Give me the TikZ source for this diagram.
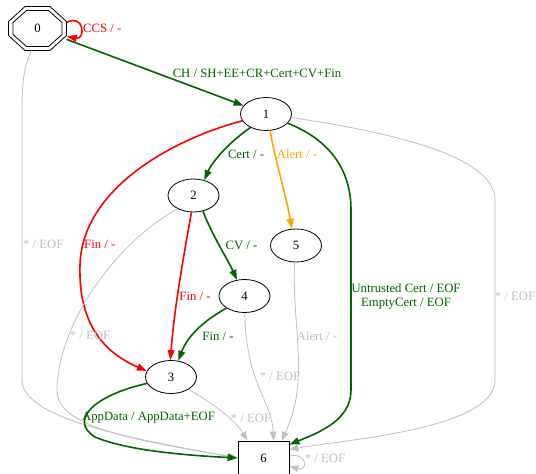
\documentclass[tikz,border=0pt]{standalone}
\usepackage{fontspec}
\setmainfont{Liberation Serif}
\usetikzlibrary{arrows.meta,shapes.geometric}
\definecolor{gvgreen}{HTML}{006400}
\definecolor{gvgray}{HTML}{C0C0C0}
\definecolor{gvorange}{HTML}{FFA500}
\definecolor{gvred}{HTML}{FF0000}
\begin{document}
\begin{tikzpicture}[x=1pt,y=-1pt,
  font=\fontsize{12.7}{14}\selectfont,
  state/.style={draw, ellipse, minimum width=51pt, minimum height=33pt, inner sep=0pt, line width=0.8pt},
  lbl/.style={inner sep=0pt, anchor=center},
  strong/.style={line width=1.6pt, -{Triangle[length=10pt,width=7pt]}},
  weak/.style={line width=0.8pt, draw=gvgray, -{Triangle[length=9pt,width=6.5pt]}},
  glab/.style={lbl, text=gvgreen},
  rlab/.style={lbl, text=gvred},
  olab/.style={lbl, text=gvorange},
  wlab/.style={lbl, text=gvgray}]
\useasboundingbox (0,0) rectangle (536,474);
\fill[white] (0,0) rectangle (536,474);
% nodes
\node[minimum width=58pt, minimum height=44pt, inner sep=0pt] (n0) at (37.5,28.5) {0};
\draw[line width=0.8pt, shift={(n0.center)}] (-12.5,-22) -- (12.5,-22) -- (29,-7) -- (29,7) -- (12.5,22) -- (-12.5,22) -- (-29,7) -- (-29,-7) -- cycle;
\draw[line width=0.8pt, shift={(n0.center)}] (-11,-18) -- (11,-18) -- (24.5,-6) -- (24.5,6) -- (11,18) -- (-11,18) -- (-24.5,6) -- (-24.5,-6) -- cycle;
\node[state] (n1) at (266,114) {1};
\node[state] (n2) at (193.5,195.5) {2};
\node[state] (n4) at (244.5,296) {4};
\node[state] (n5) at (296,245.5) {5};
\node[state] (n3) at (171,377) {3};
\node[draw, rectangle, minimum width=51pt, minimum height=34pt, inner sep=0pt, line width=0.8pt] (n6) at (263.5,458) {6};
% edges
\draw[strong, draw=gvred] ([yshift=6pt]n0.east) .. controls (84,13) and (86,40) .. ([yshift=-8pt]n0.east);
\node[rlab, anchor=west] (l0) at (83,28) {CCS / -};
\draw[strong, draw=gvgreen] (n0) -- (n1);
\node[glab] (l01) at (257,73) {CH / SH+EE+CR+Cert+CV+Fin};
\draw[weak] ([xshift=-6pt]n0.south) .. controls (22,70) and (22,90) .. (22,120) -- (22,380) .. controls (22,420) and (140,440) .. (n6.west);
\node[wlab, anchor=west] (l06) at (23,244) {* / EOF};
\draw[strong, draw=gvred] (n1.196) .. controls (170,140) and (82,190) .. (80,265) .. controls (78,330) and (110,355) .. (n3.166);
\node[rlab, anchor=west] (l13) at (84,244) {Fin / -};
\draw[strong, draw=gvgreen] (n1.221) .. controls (232,140) and (213,160) .. (n2.55);
\node[glab] (l12) at (246,154) {Cert / -};
\draw[strong, draw=gvorange] (n1.-76) .. controls (275,160) and (285,190) .. (n5.104);
\node[olab] (l15) at (297,154) {Alert / -};
\draw[strong, draw=gvgreen] (n1.-23) .. controls (330,140) and (351,170) .. (351,210) -- (351,390) .. controls (351,420) and (320,432) .. ([yshift=-4pt]n6.north east);
\node[glab, align=center] (l16) at (406,296) {Untrusted Cert / EOF\\EmptyCert / EOF};
\draw[weak] (n1.-8) .. controls (410,135) and (495,160) .. (495,200) -- (495,380) .. controls (495,430) and (340,440) .. ([yshift=-9pt]n6.north east);
\node[wlab] (l16b) at (515,296) {* / EOF};
\draw[strong, draw=gvred] (n2.-97) .. controls (183,260) and (174,310) .. (n3.92);
\node[rlab] (l23) at (195,296) {Fin / -};
\draw[strong, draw=gvgreen] (n2.-59) .. controls (212,235) and (228,260) .. (n4.115);
\node[glab] (l24) at (241.5,245) {CV / -};
\draw[weak] (n2.220) .. controls (120,240) and (58,320) .. (57,390) .. controls (56,430) and (150,442) .. (n6.west);
\node[wlab] (l26) at (90,335) {* / EOF};
\draw[strong, draw=gvgreen] (n4.214) .. controls (205,320) and (188,335) .. (n3.66);
\node[glab] (l43) at (218,336) {Fin / -};
\draw[weak] (n4.-89) .. controls (246,385) and (272,400) .. ([xshift=10pt]n6.north);
\node[wlab] (l46) at (280,376) {* / EOF};
\draw[weak] (n5.-95) .. controls (292,330) and (310,380) .. ([xshift=18pt]n6.north);
\node[wlab] (l56) at (317,336) {Alert / -};
\draw[weak] (n3.-35) .. controls (215,405) and (235,420) .. ([xshift=-16pt]n6.north);
\node[wlab] (l36) at (251,418) {* / EOF};
\draw[strong, draw=gvgreen] (n3.195) .. controls (95,395) and (68,420) .. (95,437) .. controls (130,452) and (200,456) .. (n6.west);
\node[glab] (l36b) at (148.5,418) {AppData / AppData+EOF};
\draw[weak] ([yshift=2pt]n6.east) .. controls (308,452) and (308,472) .. ([yshift=-8pt]n6.east);
\node[wlab] (l66) at (325,458) {* / EOF};
\end{tikzpicture}
\end{document}
